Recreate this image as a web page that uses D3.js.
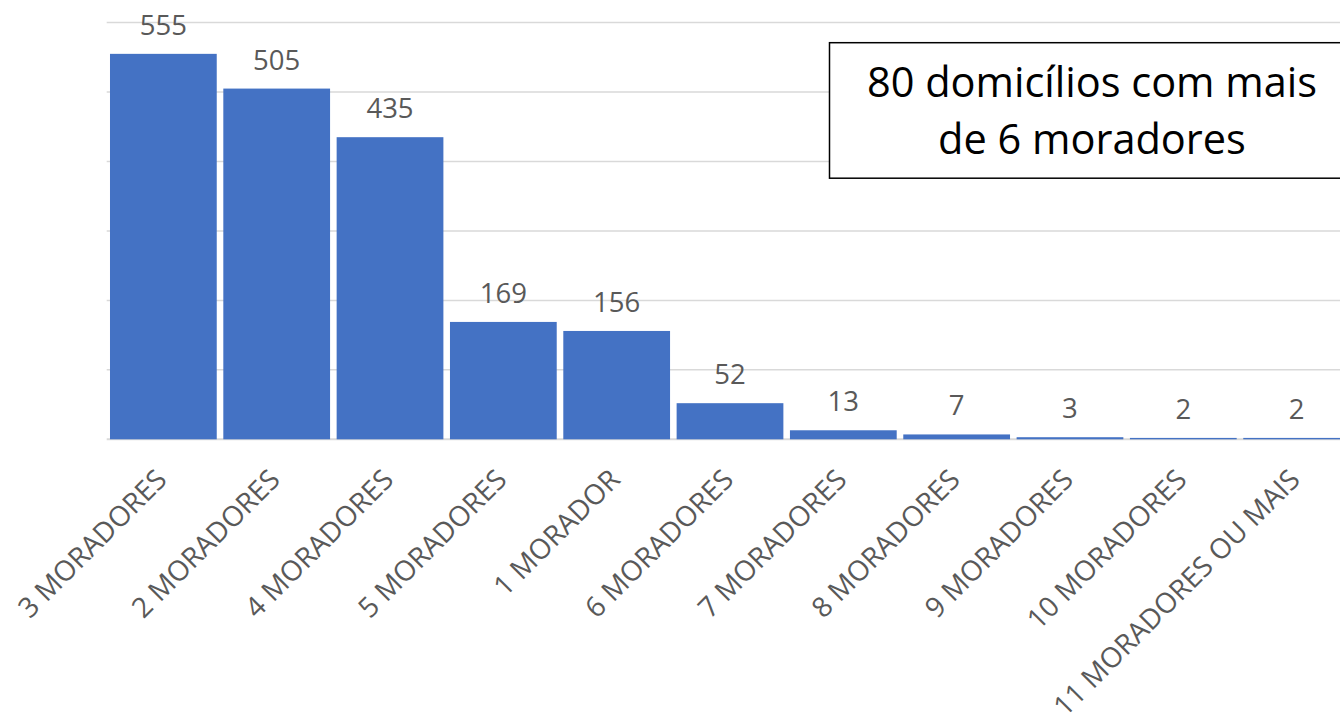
<!DOCTYPE html>
<html><head><meta charset="utf-8">
<script src="https://cdn.jsdelivr.net/npm/d3@7"></script>
<style>body{margin:0;background:#fff}svg{display:block}</style>
</head><body>
<svg id="c" width="1340" height="716"></svg>
<script>
const categories = ["3 MORADORES","2 MORADORES","4 MORADORES","5 MORADORES","1 MORADOR","6 MORADORES","7 MORADORES","8 MORADORES","9 MORADORES","10 MORADORES","11 MORADORES OU MAIS"];
const values = [555,505,435,169,156,52,13,7,3,2,2];
const yTicks = [0,100,200,300,400,500,600];
const noteLines = ["80 domicílios com mais","de 6 moradores"];

const svg = d3.select("#c");
const font = "'Open Sans', sans-serif";
const x = d3.scaleBand().domain(categories).range([106.7, 1353.3]).paddingInner(0.058).paddingOuter(0.029);
const y = d3.scaleLinear().domain([0,600]).range([439.3, 22.6]);

// gridlines
svg.append("g").selectAll("line").data(yTicks).join("line")
  .attr("x1",106.7).attr("x2",1340)
  .attr("y1",d=>y(d)).attr("y2",d=>y(d))
  .attr("stroke","#d9d9d9").attr("stroke-width",d=>d===0?2:1.5);

// bars
svg.append("g").selectAll("rect").data(values).join("rect")
  .attr("x",(d,i)=>x(categories[i]))
  .attr("width",x.bandwidth())
  .attr("y",d=>y(d))
  .attr("height",d=>y(0)-y(d))
  .attr("fill","#4472C4");

// value labels
svg.append("g").selectAll("text").data(values).join("text")
  .attr("x",(d,i)=>x(categories[i])+x.bandwidth()/2)
  .attr("y",d=>y(d)-19)
  .attr("text-anchor","middle")
  .attr("font-family",font).attr("font-size",27.5).attr("fill","#595959")
  .text(d=>d);

// category labels
svg.append("g").selectAll("text").data(categories).join("text")
  .attr("transform",d=>{const cx=x(d)+x.bandwidth()/2+5; return `translate(${cx},${y(0)+42}) rotate(-45)`;})
  .attr("text-anchor","end")
  .attr("font-family",font).attr("font-size",28).attr("fill","#595959")
  .text(d=>d);

// note box
const box = svg.append("g");
box.append("rect").attr("x",829.5).attr("y",42.7).attr("width",525).attr("height",135.5)
  .attr("fill","#fff").attr("stroke","#000").attr("stroke-width",1.5);
box.selectAll("text").data(noteLines).join("text")
  .attr("x",1092).attr("y",(d,i)=>97+i*57)
  .attr("text-anchor","middle")
  .attr("font-family",font).attr("font-size",41.5).attr("fill","#000")
  .text(d=>d);
</script>
</body></html>
